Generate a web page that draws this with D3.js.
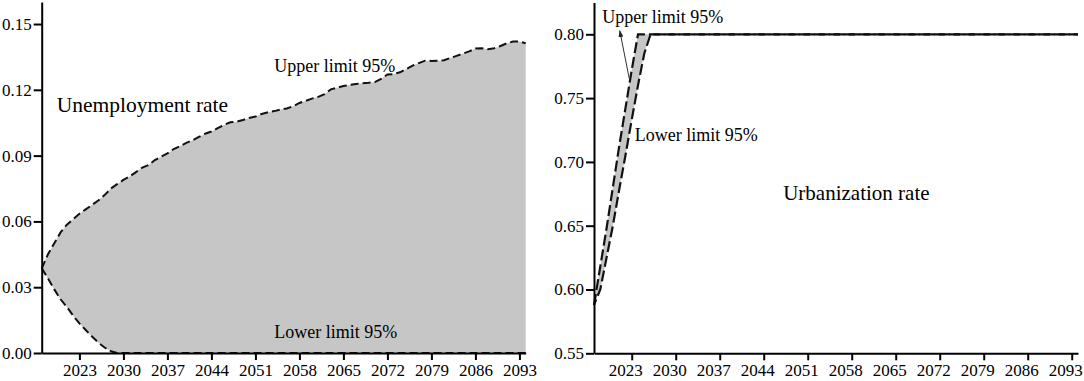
<!DOCTYPE html>
<html><head><meta charset="utf-8">
<script src="https://cdn.jsdelivr.net/npm/d3@7"></script>
<style>
html,body{margin:0;padding:0;background:#fff;}
svg text{font-family:"Liberation Serif","Times New Roman",serif;fill:#000;}
</style></head>
<body><svg id="c" width="1084" height="381"></svg>
<script>
// ---------- data ----------
const yearsL = d3.range(2017, 2095);
const unempUpper = [0.0386,0.045,0.050,0.055,0.0585,0.061,0.0635,0.0655,0.0675,0.0695,
  0.072,0.075,0.077,0.0789,0.0805,0.0825,0.0845,0.0857,0.088,0.0895,
  0.091,0.093,0.0943,0.0958,0.097,0.0985,0.100,0.101,0.1025,0.104,
  0.1052,0.1055,0.1062,0.1072,0.1078,0.109,0.1098,0.1103,0.111,0.1115,
  0.1125,0.114,0.115,0.116,0.1168,0.118,0.1202,0.121,0.1217,0.1222,
  0.1227,0.123,0.1232,0.1235,0.125,0.127,0.1272,0.128,0.1295,0.131,
  0.1322,0.1333,0.1332,0.1333,0.1335,0.1345,0.1355,0.1365,0.1375,0.1388,
  0.139,0.1385,0.139,0.140,0.1412,0.142,0.142,0.1412];
const unempLower = [0.0386,0.034,0.029,0.0245,0.021,0.017,0.0135,0.0105,0.0075,0.0048,
  0.0025,0.0008,0,0,0,0,0,0,0,0,0,0,0,0,0,0,0,0,0,0,0,0,0,0,0,0,0,0,0,0,
  0,0,0,0,0,0,0,0,0,0,0,0,0,0,0,0,0,0,0,0,0,0,0,0,0,0,0,0,0,0,0,0,0,0,0,0,0,0];
const yearsR = d3.range(2017, 2095);
const urbUpperHead = [0.588,0.618,0.648,0.680,0.712,0.742,0.772,0.80];
const urbLowerHead = [0.588,0.600,0.625,0.650,0.678,0.705,0.733,0.760,0.785,0.80];
const urbPlateau = 0.80;
const xTicks = [2023,2030,2037,2044,2051,2058,2065,2072,2079,2086,2093];
const yTicksL = [0,0.03,0.06,0.09,0.12,0.15];
const yTicksR = [0.55,0.60,0.65,0.70,0.75,0.80];

const urbUpper = yearsR.map((y,i)=> i<urbUpperHead.length ? urbUpperHead[i] : urbPlateau);
const urbLower = yearsR.map((y,i)=> i<urbLowerHead.length ? urbLowerHead[i] : urbPlateau);

const svg = d3.select("#c");
const FILL = "#c6c6c6";

function panel(xs, ys, years, upper, lower, yTicks, dash, sw, labelShift, headU, headL){
  const g = svg.append("g");
  const data = years.map((yr,i)=>({x:yr,u:upper[i],l:lower[i]}));
  g.append("path").datum(data)
    .attr("fill", FILL)
    .attr("d", d3.area().x(d=>xs(d.x)).y0(d=>ys(d.l)).y1(d=>ys(d.u)));
  const paths = {};
  ["u","l"].forEach(k=>{
    paths[k] = g.append("path").datum(data)
      .attr("fill","none").attr("stroke","#111").attr("stroke-width",sw)
      .attr("stroke-dasharray",dash)
      .attr("d", d3.line().x(d=>xs(d.x)).y(d=>ys(d[k])));
  });
  if (headU && headL) {
    const line = d3.line().x(d=>xs(d.x)).y(d=>ys(d.v));
    const tmp = g.append("path").attr("fill","none");
    const lenOf = (arr)=>{ tmp.attr("d", line(arr.map((v,i)=>({x:years[i],v})))); return tmp.node().getTotalLength(); };
    const lu = lenOf(headU), ll = lenOf(headL);
    const xu = xs(years[headU.length-1]), xl = xs(years[headL.length-1]);
    const off = (lu - xu) - (ll - xl);
    paths.l.attr("stroke-dashoffset", -off);
    tmp.remove();
  }
  const ax = g.append("g").attr("transform",`translate(0,${ys.range()[0]})`)
    .call(d3.axisBottom(xs).tickValues(xTicks).tickFormat(d3.format("d")).tickSize(7).tickSizeOuter(0).tickPadding(4));
  const ay = g.append("g").attr("transform",`translate(${xs.range()[0]},0)`)
    .call(d3.axisLeft(ys).tickValues(yTicks).tickFormat(d3.format(".2f")).tickSize(8).tickSizeOuter(0).tickPadding(2));
  [ax,ay].forEach(a=>{
    a.selectAll("path,line").attr("stroke","#000").attr("stroke-width",2);
    a.selectAll("text").attr("font-size","17px");
  });
  ax.selectAll("text").attr("dx", labelShift);
  return g;
}

// ---------- left ----------
const xL = d3.scaleLinear().domain([2017,2094]).range([41.7,525.7]);
const yL = d3.scaleLinear().domain([0,0.16]).range([353,2.1]);
const gL = panel(xL,yL,yearsL,unempUpper,unempLower,yTicksL,"8,4",2,0);
gL.append("text").attr("x",xL(2019.4)).attr("y",yL(0.110)).attr("font-size","21.5px").text("Unemployment rate");
gL.append("text").attr("x",xL(2054.0)).attr("y",yL(0.1283)).attr("font-size","18px").text("Upper limit 95%");
gL.append("text").attr("x",xL(2054.0)).attr("y",yL(0.0067)).attr("font-size","18px").text("Lower limit 95%");

// ---------- right ----------
const xR = d3.scaleLinear().domain([2017,2094]).range([594,1078]);
const yR = d3.scaleLinear().domain([0.55,0.825]).range([353.3,2.4]);
const gR = panel(xR,yR,yearsR,urbUpper,urbLower,yTicksR,"11,4",2.2,-6.5,urbUpperHead,urbLowerHead);
svg.append("defs").append("marker").attr("id","ah").attr("viewBox","0 0 10 10")
  .attr("refX",9).attr("refY",5).attr("markerWidth",7).attr("markerHeight",7).attr("orient","auto")
  .append("path").attr("d","M0,1.5L10,5L0,8.5Z").attr("fill","#222");
gR.append("line").attr("x1",xR(2022.6)).attr("y1",yR(0.7655)).attr("x2",xR(2021.1)).attr("y2",yR(0.8028))
  .attr("stroke","#333").attr("stroke-width",1).attr("marker-end","url(#ah)");
gR.append("text").attr("x",xR(2018.3)).attr("y",yR(0.8086)).attr("font-size","18px").text("Upper limit 95%");
gR.append("text").attr("x",xR(2023.5)).attr("y",yR(0.7166)).attr("font-size","18px").text("Lower limit 95%");
gR.append("text").attr("x",xR(2047.1)).attr("y",yR(0.670)).attr("font-size","21px").text("Urbanization rate");
</script></body></html>
